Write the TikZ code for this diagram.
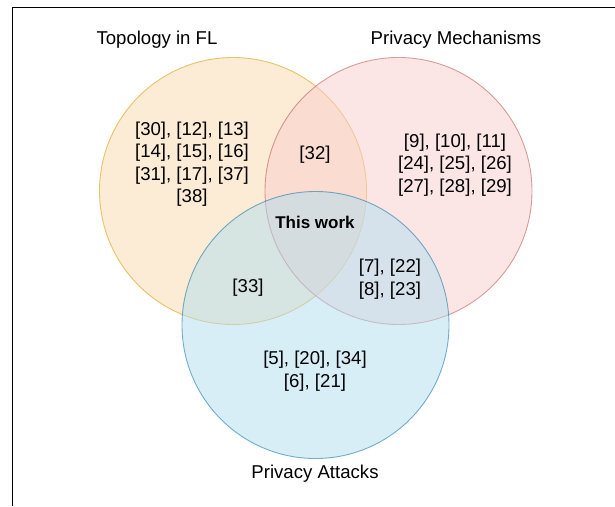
\documentclass[tikz,border=0pt]{standalone}
\usepackage{fontspec}
\setmainfont{Liberation Sans}
\usepackage{xcolor}
\usetikzlibrary{positioning}

\definecolor{topofill}{HTML}{FAD7AC}
\definecolor{topoline}{HTML}{D79B00}
\definecolor{mechfill}{HTML}{F8CECC}
\definecolor{mechline}{HTML}{B85450}
\definecolor{attfill}{HTML}{B1DDF0}
\definecolor{attline}{HTML}{10739E}

\begin{document}
\begin{tikzpicture}[
x=1pt, y=-1pt,
venn/.style={circle, draw, line width=0.9pt, minimum size=267pt, inner sep=0pt, fill opacity=0.5, draw opacity=0.55},
heading/.style={font=\fontsize{18.6}{22.4}\selectfont, align=center, inner sep=0pt},
refs/.style={font=\fontsize{18.6}{22.4}\selectfont, align=center, inner sep=0pt},
frame/.style={line width=1.1pt}
]
\useasboundingbox (0,0) rectangle (615,506);
% frame
\coordinate (fbl) at (12.5,506);
\coordinate (ftl) at (12.5,7.5);
\coordinate (ftr) at (615,7.5);
\draw[frame] (fbl) -- (ftl) -- (ftr);
% sets
\node[venn, fill=topofill, draw=topoline] (topo) at (233,191) {};
\node[venn, fill=mechfill, draw=mechline] (mech) at (398.5,191) {};
\node[venn, fill=attfill, draw=attline] (att) at (315.5,325) {};
% set names
\node[heading] (topolabel) at (157,40) {Topology in FL};
\node[heading] (mechlabel) at (456,40) {Privacy Mechanisms};
\node[heading] (attlabel) at (315,474) {Privacy Attacks};
% references per region
\node[refs] (toporefs) at (192,164) {[30], [12], [13]\\{}[14], [15], [16]\\{}[31], [17], [37]\\{}[38]};
\node[refs] (mechrefs) at (455,165) {[9], [10], [11]\\{}[24], [25], [26]\\{}[27], [28], [29]};
\node[refs] (attrefs) at (315,371) {[5], [20], [34]\\{}[6], [21]};
\node[refs] (topomech) at (315,155) {[32]};
\node[refs] (topoatt) at (248,288) {[33]};
\node[refs] (mechatt) at (390,279) {[7], [22]\\{}[8], [23]};
\node[refs, font=\fontsize{17}{20}\selectfont\bfseries] (thiswork) at (315,222) {This work};
\end{tikzpicture}
\end{document}
